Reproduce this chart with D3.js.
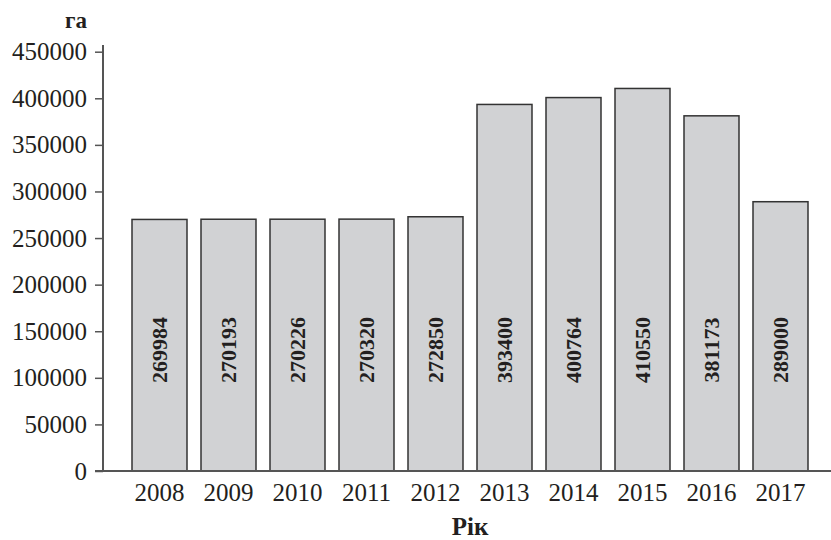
<!DOCTYPE html>
<html>
<head>
<meta charset="utf-8">
<script src="https://cdn.jsdelivr.net/npm/d3@7"></script>
<style>
  body { margin: 0; background: #fff; }
  svg { display: block; }
  svg text { font-family: "Liberation Serif", "Times New Roman", serif; }
</style>
</head>
<body>
<svg id="chart" width="831" height="540"></svg>
<script>
const years = ["2008","2009","2010","2011","2012","2013","2014","2015","2016","2017"];
const values = [269984, 270193, 270226, 270320, 272850, 393400, 400764, 410550, 381173, 289000];
const yTicks = [0, 50000, 100000, 150000, 200000, 250000, 300000, 350000, 400000, 450000];
const yUnit = "га";
const xTitle = "Рік";

const svg = d3.select("#chart");
const font = "Liberation Serif, Times New Roman, serif";

const y = d3.scaleLinear().domain([0, 450000]).range([471, 51.7]);
const x = d3.scaleBand().domain(years).range([125, 815]).paddingInner(0.203).paddingOuter(0.1015);

// bars
svg.append("g").selectAll("rect").data(values).join("rect")
  .attr("x", (d, i) => x(years[i]))
  .attr("y", d => y(d))
  .attr("width", x.bandwidth())
  .attr("height", d => y(0) - y(d))
  .attr("fill", "#d1d2d4")
  .attr("stroke", "#333")
  .attr("stroke-width", 1.5);

// value labels
svg.append("g").selectAll("text").data(values).join("text")
  .attr("transform", (d, i) => `translate(${x(years[i]) + x.bandwidth() / 2 + 7.5},350) rotate(-90)`)
  .attr("text-anchor", "middle")
  .style("font-family", font)
  .style("font-weight", "bold")
  .style("font-size", "22px")
  .attr("fill", "#231f20")
  .text(d => d);

// y axis
const yAxis = d3.axisLeft(y).tickValues(yTicks).tickSize(8).tickPadding(8).tickFormat(d3.format("d"));
const gy = svg.append("g").attr("transform", "translate(103,0)").call(yAxis);
gy.attr("font-family", null).attr("font-size", null);
gy.select(".domain").attr("d", `M0,45V471`).attr("stroke", "#555").attr("stroke-width", 2);
gy.selectAll(".tick line").attr("stroke", "#555").attr("stroke-width", 1.5);
gy.selectAll(".tick text").style("font-family", font).style("font-size", "25px").attr("fill", "#231f20");

// x axis
const xAxis = d3.axisBottom(x).tickSize(0).tickPadding(12);
const gx = svg.append("g").attr("transform", "translate(0,471)").call(xAxis);
gx.attr("font-family", null).attr("font-size", null);
gx.select(".domain").attr("d", `M95,0H831`).attr("stroke", "#555").attr("stroke-width", 2);
gx.selectAll(".tick text").style("font-family", font).style("font-size", "25px").attr("fill", "#231f20");

// titles
svg.append("text").attr("x", 87).attr("y", 28).attr("text-anchor", "end")
  .style("font-family", font).style("font-weight", "bold").style("font-size", "23px").attr("fill", "#231f20")
  .text(yUnit);
svg.append("text").attr("x", 470).attr("y", 535).attr("text-anchor", "middle")
  .style("font-family", font).style("font-weight", "bold").style("font-size", "25px").attr("fill", "#231f20")
  .text(xTitle);
</script>
</body>
</html>
